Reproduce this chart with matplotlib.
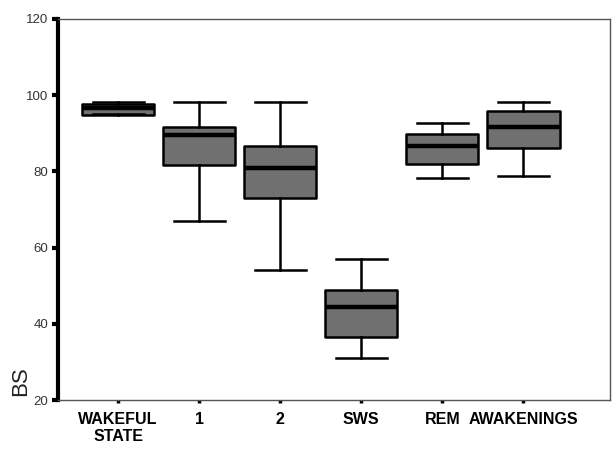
import matplotlib
matplotlib.use("Agg")
import matplotlib.pyplot as plt

# values (BS by sleep stage)
stages = ["WAKEFUL\nSTATE", "1", "2", "SWS", "REM", "AWAKENINGS"]
whislo = [95.0, 67.0, 54.0, 31.1, 78.2, 78.8]
q1 = [94.8, 81.6, 73.1, 36.6, 82.0, 86.0]
med = [96.6, 89.6, 81.0, 44.5, 86.7, 91.6]
q3 = [97.6, 91.6, 86.7, 49.0, 89.8, 95.9]
whishi = [98.1, 98.1, 98.1, 56.9, 92.8, 98.1]
yticks = [20, 40, 60, 80, 100, 120]

stats = [{"whislo": a, "q1": b, "med": c, "q3": d, "whishi": e, "fliers": []}
         for a, b, c, d, e in zip(whislo, q1, med, q3, whishi)]

fig = plt.figure(figsize=(6.12, 4.5), dpi=100)
ax = fig.add_axes([0.095, 0.111, 0.902, 0.847])
pos = list(range(1, len(stages) + 1))
ax.bxp(stats, positions=pos, widths=0.89, patch_artist=True, showfliers=False,
       boxprops=dict(facecolor="#707070", edgecolor="black", lw=1.8,
                     joinstyle="round"),
       medianprops=dict(color="black", lw=3.2),
       whiskerprops=dict(color="black", lw=1.8),
       capprops=dict(color="black", lw=1.8), capwidths=0.63)

ax.set_xlim(0.26, 7.07)
ax.set_ylim(20, 120)
ax.set_yticks(yticks)
ax.set_yticklabels([str(t) for t in yticks], fontsize=9.5, color="#333333",
                   family="Liberation Sans")
ax.set_xticks(pos)
ax.set_xticklabels(stages, fontsize=11.5, fontweight="bold",
                   family="Liberation Sans", linespacing=1.2)
ax.tick_params(axis="y", length=4, width=3, direction="out", color="black", pad=3)
ax.tick_params(axis="x", length=2.5, width=2.5, direction="out", color="black", pad=6)

for side in ["top", "right", "bottom"]:
    ax.spines[side].set_color("#555555")
    ax.spines[side].set_linewidth(1.0)
ax.spines["left"].set_color("black")
ax.spines["left"].set_linewidth(3)

fig.text(0.033, 0.152, "BS", rotation=90, fontsize=16, ha="center", va="center",
         family="Liberation Sans", color="#222222")

fig.savefig("out.png", dpi=100)
